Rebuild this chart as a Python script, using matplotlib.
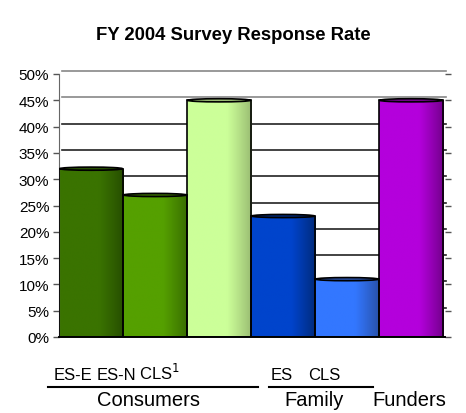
import numpy as np
import matplotlib.pyplot as plt
import matplotlib.transforms as mtransforms
from matplotlib.patches import Ellipse
from matplotlib.colors import LinearSegmentedColormap

plt.rcParams['font.family'] = ['Liberation Sans', 'DejaVu Sans']

# response rates by group
labels = ['ES-E', 'ES-N', 'CLS', 'ES', 'CLS', 'Funders']
groups = ['Consumers', 'Family']
rates = [0.32, 0.27, 0.45, 0.23, 0.11, 0.45]

# (light side, dark side) for each cylinder
bar_colors = [
    ('#3a7300', '#264d00'),
    ('#55a000', '#386c00'),
    ('#ccff99', '#99bb72'),
    ('#0044cc', '#002a7a'),
    ('#3377ff', '#2850a6'),
    ('#b400dc', '#72008a'),
]

yticks = np.arange(0, 0.51, 0.05)

W, H = 466, 414
fig = plt.figure(figsize=(W / 100, H / 100), dpi=100)
ax = fig.add_axes([59 / W, 1 - 338 / H, (445 - 59) / W, (338 - 75) / H])
ax.set_xlim(-0.5, 5.53)
ax.set_ylim(0, 0.5)

# back-wall gridlines, shifted up/right for the 3-D look
back = mtransforms.offset_copy(ax.transData, fig=fig, x=3, y=3, units='dots')
for v in yticks[1:]:
    col = '#888888' if v > 0.44 else '#222222'
    ax.plot([-0.5, 5.5], [v, v], color=col, lw=1.2, transform=back, zorder=1,
            clip_on=False)

x = np.arange(len(rates))
bars = ax.bar(x, rates, width=1.0, color='none', edgecolor='black', lw=1.2,
              zorder=3)

prof = np.linspace(0, 1, 200)
shade = np.clip(0.5 * prof + 0.5 * prof ** 2, 0, 1)
for i, (b, (c1, c2)) in enumerate(zip(bars, bar_colors)):
    cmap = LinearSegmentedColormap.from_list(f'c{i}', [c1, c1, c2])
    im = ax.imshow(shade[None, :], cmap=cmap, aspect='auto',
                   extent=[x[i] - 0.5, x[i] + 0.5, 0, rates[i]],
                   vmin=0, vmax=1, zorder=2, interpolation='bilinear')
    im.set_clip_path(b)
    top = Ellipse((x[i], rates[i]), 0.98, 0.006, facecolor=c2,
                  edgecolor='black', lw=1.2, zorder=4)
    ax.add_patch(top)

ax.set_xlim(-0.5, 5.53)
ax.set_ylim(0, 0.5)
ax.set_xticks([])
ax.set_yticks(yticks)
ax.set_yticklabels([f'{int(round(v * 100))}%' for v in yticks], fontsize=11)
ax.tick_params(axis='y', direction='out', length=4, width=1, color='#555555',
               pad=3, right=True)
for s in ['top', 'right']:
    ax.spines[s].set_visible(False)
ax.spines['left'].set_color('#666666')
ax.spines['bottom'].set_color('black')
ax.spines['bottom'].set_linewidth(1.4)

fig.text(233 / W, 1 - 35 / H, 'FY 2004 Survey Response Rate', ha='center',
         va='center', fontsize=13.3, fontweight='bold')

# category labels with group underlines
fs1 = 12
fs2 = 14.5
row1 = 1 - 380 / H
row2 = 1 - 406 / H
fig.text(73 / W, row1, labels[0], ha='center', va='baseline', fontsize=fs1)
fig.text(116 / W, row1, labels[1], ha='center', va='baseline', fontsize=fs1)
fig.text(139 / W, row1, labels[2] + '$^{1}$', ha='left', va='baseline',
         fontsize=fs1)
fig.text(282 / W, row1, labels[3], ha='center', va='baseline', fontsize=fs1)
fig.text(324 / W, row1, labels[4], ha='center', va='baseline', fontsize=fs1)
fig.add_artist(plt.Line2D([48 / W, 258 / W], [1 - 388 / H] * 2, color='black',
                          lw=1.5))
fig.add_artist(plt.Line2D([269 / W, 373 / W], [1 - 388 / H] * 2, color='black',
                          lw=1.5))
fig.text(148 / W, row2, groups[0], ha='center', va='baseline', fontsize=fs2)
fig.text(314 / W, row2, groups[1], ha='center', va='baseline', fontsize=fs2)
fig.text(409 / W, row2, labels[5], ha='center', va='baseline', fontsize=fs2)

fig.savefig('out.png', dpi=100)
